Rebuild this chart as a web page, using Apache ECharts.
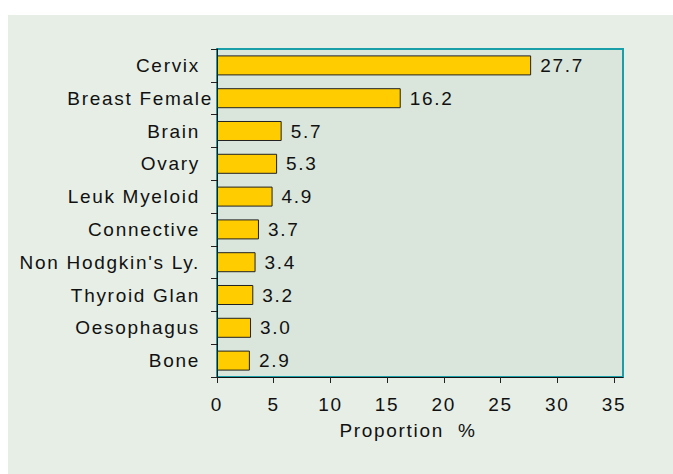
<!DOCTYPE html>
<html>
<head>
<meta charset="utf-8">
<script src="https://cdn.jsdelivr.net/npm/echarts@6/dist/echarts.min.js"></script>
<style>
  html, body { margin: 0; padding: 0; background: #ffffff; width: 673px; height: 474px; overflow: hidden; }
  #chart { position: absolute; left: 8px; top: 15px; width: 665px; height: 459px; }
  #chart text { letter-spacing: 1.7px; }
</style>
</head>
<body>
<div id="chart"></div>
<script>
const categories = ['Cervix', 'Breast Female', 'Brain', 'Ovary', 'Leuk Myeloid', 'Connective', "Non Hodgkin's Ly.", 'Thyroid Glan', 'Oesophagus', 'Bone'];
const proportions = [27.7, 16.2, 5.7, 5.3, 4.9, 3.7, 3.4, 3.2, 3.0, 2.9];
const xTicks = [0, 5, 10, 15, 20, 25, 30, 35];
const xAxisTitle = 'Proportion  %';

const chart = echarts.init(document.getElementById('chart'), null, { renderer: 'svg' });
const font = '"Liberation Sans", Arial, sans-serif';

chart.setOption({
  backgroundColor: '#E6EEE6',
  animation: false,
  grid: {
    left: 209, top: 34, right: 50, bottom: 97,
    show: true,
    backgroundColor: '#DAE6DB',
    borderColor: '#1A9FA8',
    borderWidth: 2
  },
  xAxis: {
    type: 'value',
    min: 0,
    max: 35.8,
    interval: 5,
    name: xAxisTitle,
    nameLocation: 'middle',
    nameGap: 44,
    nameTextStyle: { fontFamily: font, fontSize: 19, color: '#111', padding: [0, 24, 0, 0] },
    axisLine: { show: true, lineStyle: { color: '#111', width: 1 } },
    axisTick: { show: true, length: 6, lineStyle: { color: '#222' }, customValues: xTicks },
    axisLabel: { fontFamily: font, fontSize: 19, color: '#111', margin: 18, customValues: xTicks },
    splitLine: { show: false }
  },
  yAxis: {
    type: 'category',
    inverse: true,
    data: categories.map(c => c === 'Breast Female'
      ? { value: c, textStyle: { padding: [0, -13, 0, 0] } }
      : c),
    axisLine: { show: true, lineStyle: { color: '#111', width: 1 } },
    axisTick: { show: true, length: 6, lineStyle: { color: '#222' } },
    axisLabel: { fontFamily: font, fontSize: 19, color: '#111', margin: 17 },
    splitLine: { show: false }
  },
  series: [{
    type: 'bar',
    data: proportions,
    barCategoryGap: '39%',
    itemStyle: { color: '#FFCC00', borderColor: '#222', borderWidth: 1 },
    label: {
      show: true,
      position: 'right',
      distance: 9,
      fontFamily: font,
      fontSize: 19,
      color: '#111',
      formatter: p => p.value.toFixed(1)
    }
  }]
});
</script>
</body>
</html>
